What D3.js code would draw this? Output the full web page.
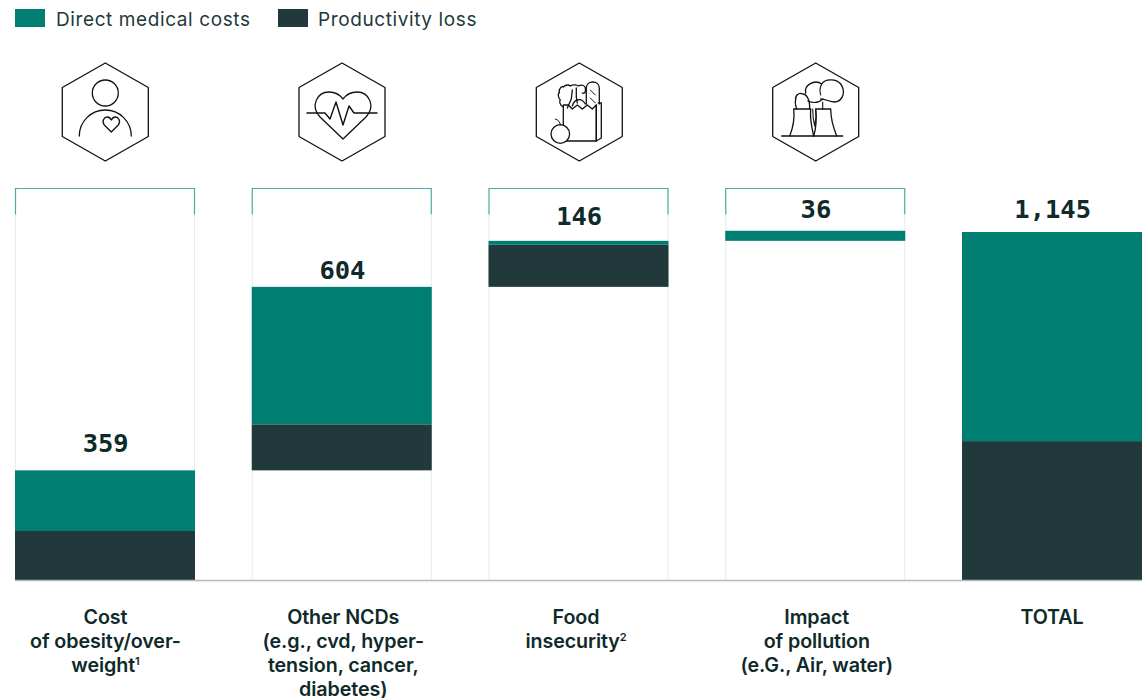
<!DOCTYPE html>
<html><head><meta charset="utf-8">
<script src="https://cdn.jsdelivr.net/npm/d3@7/dist/d3.min.js"></script>
<style>html,body{margin:0;padding:0;background:#fff}svg{display:block}</style></head>
<body><svg id="c" width="1148" height="698"></svg>
<script>
const categories = ["Cost of obesity", "Other NCDs", "Food insecurity", "Impact of pollution", "TOTAL"];
const productivityLoss = [164, 151, 138, 0, 459];
const directMedical = [199, 451, 13, 33, 686];
const totalLabels = ["359", "604", "146", "36", "1,145"];
const seriesNames = ["Direct medical costs", "Productivity loss"];
const categoryLines = [
  [["Cost"], ["of obesity/over-"], ["weight", "1"]],
  [["Other NCDs"], ["(e.g., cvd, hyper-"], ["tension, cancer,"], ["diabetes)"]],
  [["Food"], ["insecurity", "2"]],
  [["Impact"], ["of pollution"], ["(e.G., Air, water)"]],
  [["TOTAL"]]
];
const labelGaps = [18, 8, 16, 13, 14];
const captionShift = [0, 1, -3, 1, -0.5];
const TEAL = "#007E72", DARK = "#22393B", INK = "#0F2A2A";
const svg = d3.select("#c");
const x = d3.scaleBand().domain(categories).range([15, 1142]).paddingInner(0.2397).paddingOuter(0);
const y = d3.scaleLinear().domain([0, 1145]).range([581, 232]);
const w = x.bandwidth();
let running = 0;
const bases = categories.map((c, i) => { if (i === 4) return 0; const b = running; running += productivityLoss[i] + directMedical[i]; return b; });

categories.slice(0, 4).forEach((c, i) => {
  const x0 = x(c) + 0.5, x1 = x(c) + w - 0.5, top = 188.5;
  [x0, x1].forEach(px => svg.append("line").attr("x1", px).attr("x2", px).attr("y1", top + 26).attr("y2", 581)
    .attr("stroke", "#DDF0EE").attr("stroke-width", 1));
  svg.append("path").attr("d", `M${x0},${top + 26}V${top}H${x1}V${top + 26}`)
    .attr("fill", "none").attr("stroke", "#4FA9A1").attr("stroke-width", 1.2);
});

categories.forEach((c, i) => {
  const b = bases[i], p = productivityLoss[i], d = directMedical[i];
  if (p > 0) svg.append("rect").attr("x", x(c)).attr("width", w)
    .attr("y", y(b + p)).attr("height", y(b) - y(b + p)).attr("fill", DARK);
  svg.append("rect").attr("x", x(c)).attr("width", w)
    .attr("y", y(b + p + d)).attr("height", y(b + p) - y(b + p + d)).attr("fill", TEAL);
  svg.append("text").attr("x", x(c) + w / 2 + 0.7).attr("y", y(b + p + d) - labelGaps[i])
    .attr("text-anchor", "middle").attr("font-family", "'DejaVu Sans Mono'").attr("font-weight", 700)
    .attr("font-size", 25.5).attr("fill", INK).text(totalLabels[i]);
});

svg.append("line").attr("x1", 15).attr("x2", 1142).attr("y1", 580.5).attr("y2", 580.5)
  .attr("stroke", "#B5B9B8").attr("stroke-width", 1.5);

categories.forEach((c, i) => {
  categoryLines[i].forEach((ln, k) => {
    const t = svg.append("text").attr("x", x(c) + w / 2 + 0.5 + captionShift[i]).attr("y", 623.5 + k * 24)
      .attr("text-anchor", "middle").attr("font-family", "Inter").attr("font-weight", 600)
      .attr("font-size", 19.7).attr("letter-spacing", -0.1).attr("fill", INK).text(ln[0]);
    if (ln[1]) t.append("tspan").attr("font-size", 11).attr("dy", -7).text(ln[1]);
  });
});

[[15, TEAL, 56], [278, DARK, 318]].forEach((l, i) => {
  svg.append("rect").attr("x", l[0]).attr("y", 9).attr("width", 30).attr("height", 18).attr("fill", l[1]);
  svg.append("text").attr("x", l[2]).attr("y", 25.5).attr("font-family", "Inter").attr("font-weight", 400)
    .attr("font-size", 19).attr("letter-spacing", 0.6).attr("fill", DARK).text(seriesNames[i]);
});

const line = (g, d, sw) => g.append("path").attr("d", d).attr("fill", "none").attr("stroke", "#111").attr("stroke-width", sw || 1.3).attr("stroke-linejoin", "round").attr("stroke-linecap", "round");
const drawers = [
  g => {
    g.append("circle").attr("cx", 0).attr("cy", -19).attr("r", 13).attr("fill", "none").attr("stroke", "#111").attr("stroke-width", 1.3);
    line(g, "M-26,24 A26,26 0 0 1 26,24");
    line(g, "M6,20 L-1,13 C-4,9 -1,5 2,5 C4,5 5,6 6,8 C7,6 8,5 10,5 C13,5 16,9 13,13 Z");
  },
  g => {
    line(g, "M1,27 L-22,5 C-32,-6 -25,-20 -13,-20 C-7,-20 -2,-17 1,-13 C4,-17 9,-20 15,-20 C27,-20 34,-6 24,5 Z");
    line(g, "M-35,1 H-17 L-12,7 L-6,-10 L1,13 L7,-6 L12,1 H35", 1.4);
  },
  g => {
    line(g, "M-16,-7 V29 H17 V-7 L13,-3 L8,-7 L3,-3 L-2,-7 L-7,-3 L-11,-7 Z");
    line(g, "M17,29 L22,26 V-9 L19,-9 M17,-7 V29");
    line(g, "M-16,-5 C-20,-7 -20,-11 -19,-12 C-22,-15 -21,-20 -20,-19 C-21,-24 -17,-26 -16,-25 C-13,-28 -10,-27 -9,-26 C-6,-28 -2,-27 -1,-26 C3,-28 6,-26 6,-24 C7,-20 5,-18 3,-19");
    line(g, "M-7,-22 L-8,-13 L-12,-4 M-3,-24 V-15 L-2,-9");
    line(g, "M-7,-6 C-5,-13 2,-15 6,-8");
    line(g, "M7,-8 V-24 C7,-32 20,-32 20,-24 V-8");
    line(g, "M11,-22 L16,-17 M11,-14 L16,-9", 1);
    g.append("circle").attr("cx", -19).attr("cy", 22).attr("r", 9.3).attr("fill", "#fff").attr("stroke", "#111").attr("stroke-width", 1.3);
    line(g, "M-19,13 C-19,10 -21,8 -24,7", 1);
  },
  g => {
    line(g, "M-34,24 H27");
    line(g, "M-26,24 C-22,14 -21,6 -22,-3 H-5 C-6,8 -4,16 -2,24");
    line(g, "M-2,24 C1,14 1,6 0,-3 H15 C15,6 17,14 21,24");
    line(g, "M-19,-3 C-20,-6 -21,-10 -20,-12 C-21,-16 -17,-20 -13,-18 C-9,-18 -8,-14 -7,-12 C-6,-9 -6,-6 -6,-3");
    line(g, "M-10,-19 C-12,-27 -1,-33 6,-28 C9,-33 20,-34 25,-28 C30,-21 28,-11 19,-10 C14,-10 10,-13 5,-13");
    line(g, "M6,-28 C4,-24 4,-20 5,-17 M-8,-11 C-3,-9 3,-9 7,-13 M7,-10 L7,-3 M-3,-3 C-3,4 -2,10 -1,14 M-1,14 C0,10 1,4 0,-3", 1.1);
  }
];
const iconCx = [105.3, 342, 579.3, 815.7];
const hex = "M0,-49 L43,-24.5 V24.5 L0,49 L-43,24.5 V-24.5 Z";
iconCx.forEach((cx, i) => {
  const g = svg.append("g").attr("transform", `translate(${cx},112)`);
  line(g, hex, 1.3);
  drawers[i](g);
});
</script></body></html>
